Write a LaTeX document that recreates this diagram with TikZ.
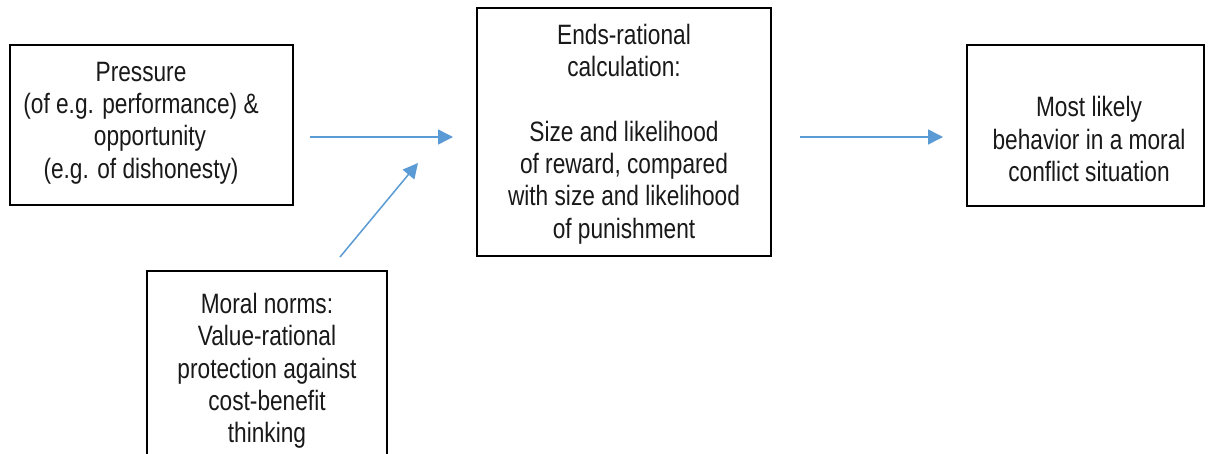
\documentclass[tikz,border=0pt]{standalone}
\usepackage{fontspec}
\setmainfont{Liberation Sans}[FakeStretch=0.81]
\usetikzlibrary{arrows.meta}
\definecolor{arrblue}{HTML}{5B9BD5}
\tikzset{
  box/.style={draw=black, line width=2pt, rectangle, inner sep=0pt},
  txt/.style={align=center, inner sep=0pt, text=black!90,
    font={\fontsize{28pt}{32.3pt}\selectfont}},
  conn/.style={draw=arrblue, line width=1.5pt,
    -{Triangle[length=15pt,width=15pt]}}
}
\begin{document}
\begin{tikzpicture}[x=1pt,y=-1pt]
\useasboundingbox (0,0) rectangle (1208,453);
\clip (0,0) rectangle (1208,453);
\fill[white] (0,0) rectangle (1208,453);
% boxes
\node[box, minimum width=283pt, minimum height=160pt] (b1) at (151.5,125) {};
\node[box, minimum width=294pt, minimum height=248pt] (b2) at (624,132) {};
\node[box, minimum width=237pt, minimum height=161pt] (b3) at (1085.5,125.5) {};
\node[box, minimum width=240pt, minimum height=200pt] (b4) at (267,371) {};
% texts
\node[txt] (t1) at (141,123) {Pressure\\(of e.g. performance) \&\\\hspace*{18pt}opportunity\\(e.g. of dishonesty)};
\node[txt] (t2) at (624,134) {Ends-rational\\calculation:\\[32.3pt]Size and likelihood\\of reward, compared\\with size and likelihood\\of punishment};
\node[txt] (t3) at (1089,139) {Most likely\\behavior in a moral\\conflict situation};
\node[txt] (t4) at (267,371) {Moral norms:\\Value-rational\\protection against\\cost-benefit\\thinking};
% connector ends
\coordinate (a1s) at (310,137);
\coordinate (a1e) at (453,137);
\coordinate (a2s) at (800,137);
\coordinate (a2e) at (943,137);
\coordinate (a3s) at (340,257);
\coordinate (a3e) at (418,163);
\draw[conn] (a1s) -- (a1e);
\draw[conn] (a2s) -- (a2e);
\draw[conn] (a3s) -- (a3e);
\end{tikzpicture}
\end{document}
